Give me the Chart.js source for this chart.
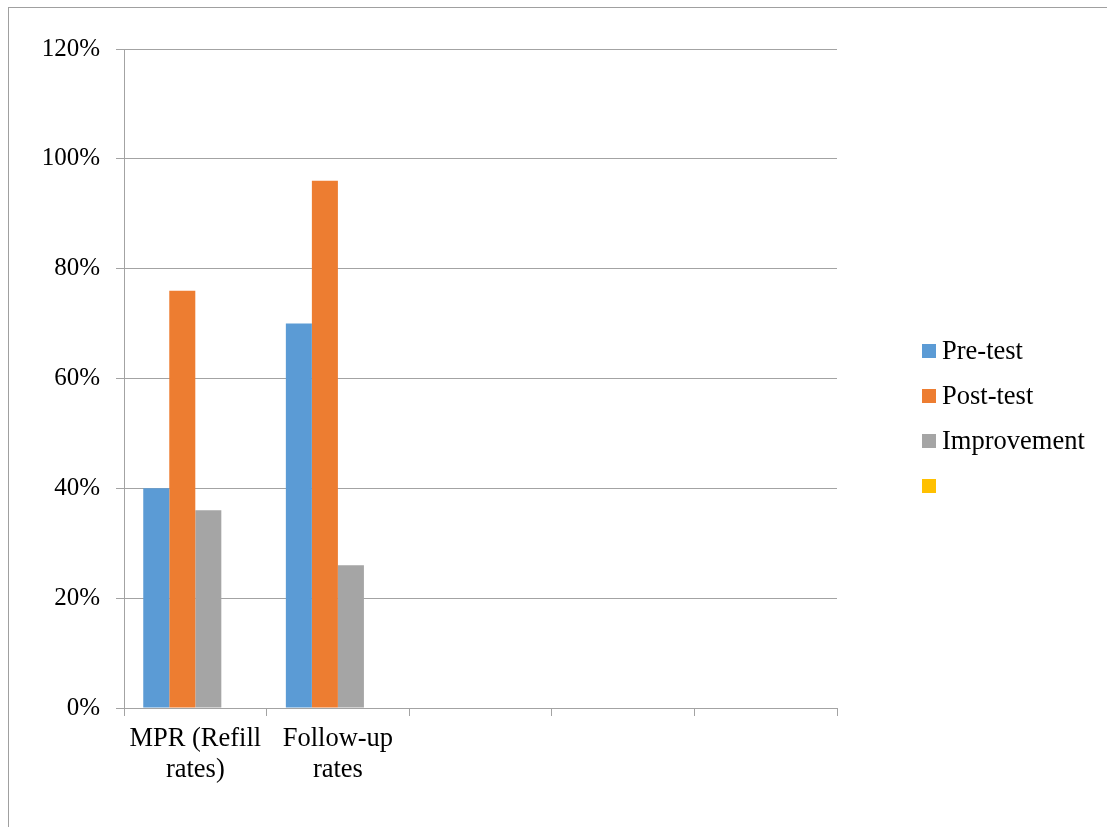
<!DOCTYPE html>
<html>
<head>
<meta charset="utf-8">
<script src="https://cdn.jsdelivr.net/npm/chart.js@4.4.1/dist/chart.umd.min.js"></script>
<style>
  html, body { margin: 0; padding: 0; background: #fff; overflow: hidden; }
  #wrap { position: relative; width: 1107px; height: 827px; }
  #frame {
    position: absolute; left: 8px; top: 7px; width: 1200px; height: 900px;
    border-left: 1px solid #a0a0a0; border-top: 1px solid #a0a0a0;
    box-sizing: border-box; pointer-events: none;
  }
  canvas { position: absolute; left: 0; top: 0; }
</style>
</head>
<body>
<div id="wrap">
  <div id="frame"></div>
  <canvas id="chart" width="1107" height="827"></canvas>
</div>
<script>
// Category labels (two measured groups, three empty slots on the axis)
const categories = [['MPR (Refill', 'rates)'], ['Follow-up', 'rates'], '', '', ''];

// Series values as fractions (shown as percentages)
const preTest     = [0.40, 0.70, null, null, null];
const postTest    = [0.76, 0.96, null, null, null];
const improvement = [0.36, 0.26, null, null, null];
const unnamed     = [null, null, null, null, null];

const seriesNames  = ['Pre-test', 'Post-test', 'Improvement', ''];
const seriesColors = ['#5B9BD5', '#ED7D31', '#A5A5A5', '#FFC000'];

// Y axis ticks
const yMin = 0, yMax = 1.2, yStep = 0.2;

const GRID = '#a3a3a3';
const SERIF = '"Liberation Serif", "Times New Roman", serif';

// Legend drawn at the right of the plot
const sideLegend = {
  id: 'sideLegend',
  afterDraw(chart) {
    const ctx = chart.ctx;
    ctx.save();
    ctx.font = '26.5px ' + SERIF;
    ctx.textBaseline = 'alphabetic';
    ctx.textAlign = 'left';
    chart.data.datasets.forEach((ds, i) => {
      const cy = 351 + i * 45;
      ctx.fillStyle = ds.backgroundColor;
      ctx.fillRect(922, cy - 7, 14, 14);
      ctx.fillStyle = '#000';
      ctx.fillText(ds.label, 942, cy + 8);
    });
    ctx.restore();
  }
};

const series = [preTest, postTest, improvement, unnamed];

new Chart(document.getElementById('chart'), {
  type: 'bar',
  data: {
    labels: categories,
    datasets: series.map((vals, i) => ({
      label: seriesNames[i],
      data: vals,
      backgroundColor: seriesColors[i],
      borderWidth: 0,
      categoryPercentage: 0.73,
      barPercentage: 1.0
    }))
  },
  options: {
    responsive: false,
    animation: false,
    devicePixelRatio: 1,
    layout: { padding: { left: 0, top: 49, right: 270, bottom: 0 } },
    plugins: {
      legend: { display: false },
      tooltip: { enabled: false }
    },
    scales: {
      x: {
        offset: true,
        grid: {
          offset: true,
          drawOnChartArea: false,
          drawTicks: true,
          tickLength: 8,
          color: GRID
        },
        border: { display: true, color: GRID, width: 1 },
        ticks: {
          color: '#000',
          font: { family: SERIF, size: 26.5, lineHeight: 1.15 },
          padding: 8,
          maxRotation: 0,
          autoSkip: false
        },
        afterFit(scale) { scale.height = 827 - 708; }
      },
      y: {
        min: yMin,
        max: yMax,
        grid: {
          color: GRID,
          tickLength: 8,
          drawTicks: true
        },
        border: { display: true, color: GRID, width: 1 },
        ticks: {
          stepSize: yStep,
          color: '#000',
          font: { family: SERIF, size: 25 },
          padding: 16,
          callback: v => Math.round(v * 100) + '%'
        },
        afterFit(scale) { scale.width = 124; }
      }
    }
  },
  plugins: [sideLegend]
});
</script>
</body>
</html>
